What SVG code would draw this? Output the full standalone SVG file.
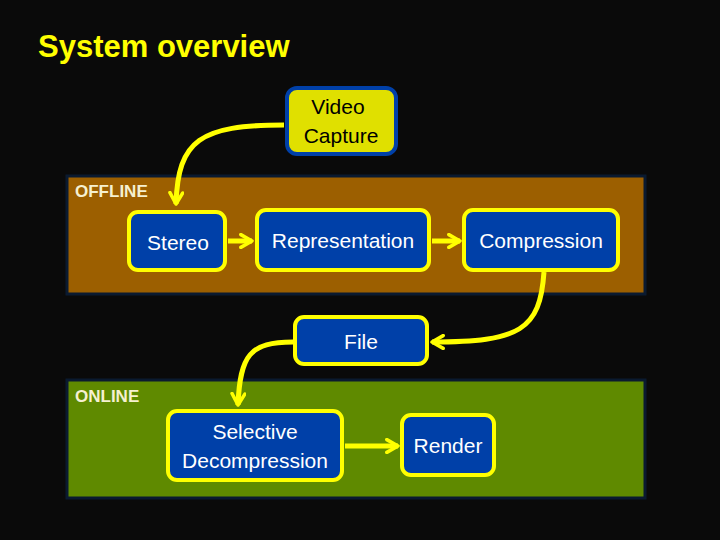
<svg xmlns="http://www.w3.org/2000/svg" width="720" height="540" viewBox="0 0 720 540">
<defs>
<marker id="ah" viewBox="0 0 10 10" refX="8" refY="5" markerWidth="3.2" markerHeight="3.2" orient="auto" markerUnits="strokeWidth">
<path d="M1,1 L8,5 L1,9" fill="none" stroke="#ffff00" stroke-width="2.2" stroke-linecap="round" stroke-linejoin="round"/>
</marker>
</defs>
<style>
text{font-family:"Liberation Sans",Arial,sans-serif;}
.n{fill:#0040a8;stroke:#ffff00;stroke-width:4;}
.t{fill:#ffffff;font-size:21px;text-anchor:middle;}
.c{fill:none;stroke:#ffff00;stroke-width:5;marker-end:url(#ah);}
.lbl{fill:#f5f0d0;font-size:17px;font-weight:bold;}
</style>
<rect width="720" height="540" fill="#0a0a0a"/>
<text x="38" y="57" fill="#ffff00" font-size="31" font-weight="bold">System overview</text>
<g id="offline"><rect x="67" y="176" width="578" height="118" fill="#9c5f00" stroke="#0a1a30" stroke-width="3"/><text class="lbl" x="75" y="197">OFFLINE</text></g>
<g id="online"><rect x="67" y="380" width="578" height="118" fill="#5f8a00" stroke="#0a1a30" stroke-width="3"/><text class="lbl" x="75" y="402">ONLINE</text></g>
<g id="connectors">
<path class="c" d="M284,125 C200,125 178,140 176,204"/>
<path class="c" d="M228,241 L252,241"/>
<path class="c" d="M432,241 L460,241"/>
<path class="c" d="M544,272 C540,330 520,342 432,342"/>
<path class="c" d="M293,342 C250,342 240,355 238,405"/>
<path class="c" d="M345,446 L398,446"/>
</g>
<g id="video"><rect x="287" y="88" width="109" height="66" rx="10" fill="#e0e000" stroke="#0040a8" stroke-width="4"/><text x="338" y="114" fill="#000" font-size="21" text-anchor="middle">Video</text><text x="341" y="143" fill="#000" font-size="21" text-anchor="middle">Capture</text></g>
<g id="stereo"><rect class="n" x="129" y="212" width="96" height="58" rx="9"/><text class="t" x="178" y="250">Stereo</text></g>
<g id="representation"><rect class="n" x="257" y="210" width="172" height="60" rx="9"/><text class="t" x="343" y="248">Representation</text></g>
<g id="compression"><rect class="n" x="464" y="210" width="154" height="60" rx="9"/><text class="t" x="541" y="248">Compression</text></g>
<g id="file"><rect class="n" x="295" y="317" width="132" height="47" rx="9"/><text class="t" x="361" y="349">File</text></g>
<g id="selective"><rect class="n" x="168" y="411" width="174" height="69" rx="9"/><text class="t" x="255" y="439">Selective</text><text class="t" x="255" y="468">Decompression</text></g>
<g id="render"><rect class="n" x="402" y="415" width="92" height="60" rx="9"/><text class="t" x="448" y="453">Render</text></g>
</svg>
